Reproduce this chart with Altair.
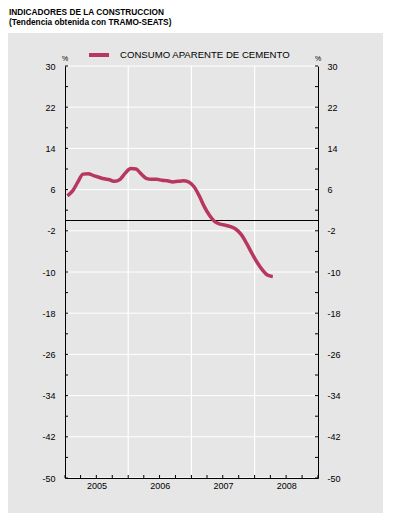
import altair as alt
import pandas as pd

# ---- data ----
series_name = "CONSUMO APARENTE DE CEMENTO"
values = [4.8, 5.8, 7.4, 9.0, 9.1, 8.7, 8.4, 8.1, 7.9, 7.6, 8.0, 9.2,
          10.1, 10.0, 9.1, 8.2, 8.0, 8.0, 7.8, 7.7, 7.5, 7.6, 7.7, 7.5,
          6.6, 4.8, 2.8, 1.0, -0.2, -0.7, -0.9, -1.2, -1.7, -2.7, -4.4, -6.3,
          -8.1, -9.6, -10.6, -10.9]
start_month = "2005-01-01"
years = [2005, 2006, 2007, 2008]
year_bounds = ["2006-01-01", "2007-01-01", "2008-01-01"]
y_ticks = [30, 22, 14, 6, -2, -10, -18, -26, -34, -42, -50]
y_minor = list(range(-50, 31, 4))
title_line1 = "INDICADORES DE LA CONSTRUCCIÓN"
title_line2 = "(Tendencia obtenida con TRAMO-SEATS)"

dates = pd.date_range(start_month, periods=len(values), freq="MS") + pd.Timedelta(days=14)
df = pd.DataFrame({"date": dates, "value": values, "series": series_name})
quarters = pd.date_range("2005-01-01", "2009-01-01", freq="QS")
df_q = pd.DataFrame({"date": quarters})
df_yb = pd.DataFrame({"date": pd.to_datetime(year_bounds)})
df_yt = pd.DataFrame({"v": y_ticks})
df_ym = pd.DataFrame({"v": y_minor})
df_one = pd.DataFrame({"v": [0]})

W, H = 253, 412
FONT = "Liberation Sans"
LINE_COLOR = "#b8375f"
xdom = [alt.DateTime(year=2005, month=1, date=1), alt.DateTime(year=2009, month=1, date=1)]
xscale = alt.Scale(domain=xdom)
yscale = alt.Scale(domain=[-50, 30], nice=False, zero=False)

common_axis = dict(ticks=False, grid=False, domainColor="black", labelColor="black",
                   labelFontSize=9, labelFont=FONT, title=None, zindex=1)

bg = alt.Chart(df_one).mark_rect(color="#e6e6e6").encode(
    x=alt.value(-60), x2=alt.value(318), y=alt.value(-33), y2=alt.value(447)
)

hgrid = alt.Chart(df_yt).mark_rule(color="white", strokeWidth=1).encode(
    y=alt.Y("v:Q", scale=yscale,
            axis=alt.Axis(values=y_ticks, labelPadding=10,
                          labelExpr="'' + datum.value", **common_axis)),
    x=alt.value(0), x2=alt.value(W)
)

vgrid = alt.Chart(df_yb).mark_rule(color="white", strokeWidth=1.2).encode(
    x=alt.X("date:T", scale=xscale,
            axis=alt.Axis(orient="bottom",
                          values=[alt.DateTime(year=y, month=7, date=2) for y in years],
                          format="%Y", labelPadding=3, labelFlush=False, **common_axis)),
    y=alt.value(0), y2=alt.value(H)
)

zero = alt.Chart(df_one).mark_rule(color="black", strokeWidth=1).encode(
    y=alt.Y("v:Q", scale=yscale,
            axis=alt.Axis(orient="right", values=y_ticks, labelPadding=9, labelAlign="left",
                          labelExpr="'' + datum.value", **common_axis)),
    x=alt.value(0), x2=alt.value(W)
)

ticks_l = alt.Chart(df_ym).mark_rule(color="black").encode(
    y=alt.Y("v:Q", scale=yscale, axis=None), x=alt.value(0), x2=alt.value(3)
)
ticks_r = alt.Chart(df_ym).mark_rule(color="black").encode(
    y=alt.Y("v:Q", scale=yscale, axis=None), x=alt.value(W - 3), x2=alt.value(W)
)
ticks_b = alt.Chart(df_q).mark_rule(color="black").encode(
    x=alt.X("date:T", scale=xscale, axis=None), y=alt.value(H - 3), y2=alt.value(H)
)

line = alt.Chart(df).mark_line(strokeWidth=3.5, interpolate="monotone").encode(
    x=alt.X("date:T", scale=xscale, axis=None),
    y=alt.Y("value:Q", scale=yscale, axis=None),
    color=alt.Color("series:N", scale=alt.Scale(range=[LINE_COLOR]),
                    legend=alt.Legend(orient="none", legendX=22, legendY=-23, title=None,
                                      symbolType="stroke", symbolSize=400,
                                      symbolStrokeWidth=4, labelFontSize=9.6,
                                      labelFont=FONT, labelColor="black",
                                      labelOffset=9, padding=0, labelLimit=400))
)

pct_l = alt.Chart(df_one).mark_text(text="%", fontSize=7, font=FONT, color="black").encode(
    x=alt.value(0), y=alt.value(-7)
)
pct_r = alt.Chart(df_one).mark_text(text="%", fontSize=7, font=FONT, color="black").encode(
    x=alt.value(W), y=alt.value(-7)
)

title1 = alt.Chart(df_one).mark_text(
    text=title_line1, fontSize=8.3, font=FONT, fontWeight="bold", color="black",
    align="left", baseline="alphabetic").encode(x=alt.value(-56), y=alt.value(-51))
title2 = alt.Chart(df_one).mark_text(
    text=title_line2, fontSize=8.3, font=FONT, fontWeight="bold", color="black",
    align="left", baseline="alphabetic").encode(x=alt.value(-56), y=alt.value(-41))

chart = alt.layer(
    bg, hgrid, vgrid, zero, ticks_l, ticks_r, ticks_b, line, pct_l, pct_r, title1, title2
).resolve_axis(y="independent", x="independent").properties(
    width=W, height=H,
    autosize=alt.AutoSizeParams(type="none"),
    padding={"left": 57, "top": 58, "right": 66, "bottom": 37},
).configure_view(stroke=None).configure(background="white")

chart.save("out.html", embed_options={"renderer": "svg", "actions": False})
